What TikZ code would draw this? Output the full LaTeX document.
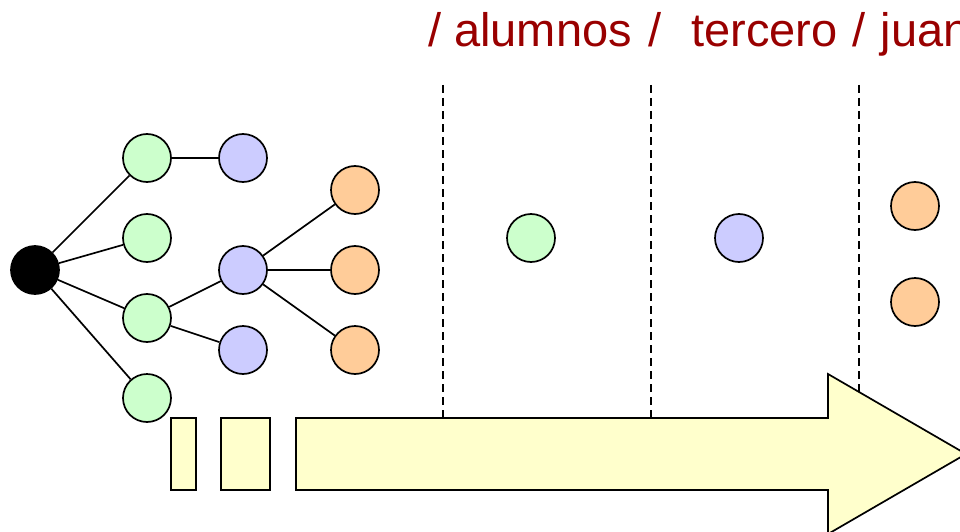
\documentclass[tikz,border=0pt]{standalone}
\usepackage{fontspec}
\setmainfont{Liberation Sans}
\definecolor{ngreen}{HTML}{CCFFCC}
\definecolor{nblue}{HTML}{CCCCFF}
\definecolor{norange}{HTML}{FFCC99}
\definecolor{arrowfill}{HTML}{FFFFCC}
\definecolor{titlered}{HTML}{990000}
\begin{document}
\begin{tikzpicture}[x=1pt,y=-1pt,
  dot/.style={circle,draw=black,line width=1.7pt,minimum size=48pt,inner sep=0pt},
  gdot/.style={dot,fill=ngreen},
  bdot/.style={dot,fill=nblue},
  odot/.style={dot,fill=norange},
  edge/.style={line width=1.7pt},
  sep/.style={line width=1.3pt,dash pattern=on 8pt off 5pt},
  ybox/.style={draw=black,line width=1.7pt,fill=arrowfill}]
\useasboundingbox (0,0) rectangle (960,532);
% title
\node[anchor=base west,inner sep=0pt,text=titlered,font=\fontsize{47}{56}\selectfont] (title) at (428,47) {/ alumnos\hspace{4pt} /\ \ \hspace{3pt}tercero\hspace{2pt} / \hspace{2pt}juan};
% dashed separators
\draw[sep] (443,85) -- (443,418);
\draw[sep] (651,85) -- (651,418);
\draw[sep] (859,85) -- (859,418);
% arrow and boxes
\draw[ybox] (171,418) rectangle (196,490);
\draw[ybox] (221,418) rectangle (270,490);
\draw[ybox,line join=miter] (296,418) -- (828,418) -- (828,374) -- (966,454) -- (828,534) -- (828,490) -- (296,490) -- cycle;
% tree
\node[dot,fill=black] (root) at (35,270) {};
\node[gdot] (g1) at (147,158) {};
\node[gdot] (g2) at (147,238) {};
\node[gdot] (g3) at (147,318) {};
\node[gdot] (g4) at (147,398) {};
\node[bdot] (b1) at (243,158) {};
\node[bdot] (b2) at (243,270) {};
\node[bdot] (b3) at (243,350) {};
\node[odot] (o1) at (355,190) {};
\node[odot] (o2) at (355,270) {};
\node[odot] (o3) at (355,350) {};
\foreach \g in {g1,g2,g3,g4} \draw[edge] (root) -- (\g);
\draw[edge] (g1) -- (b1);
\draw[edge] (g3) -- (b2);
\draw[edge] (g3) -- (b3);
\foreach \o in {o1,o2,o3} \draw[edge] (b2) -- (\o);
% columns
\node[gdot] (cg) at (531,238) {};
\node[bdot] (cb) at (739,238) {};
\node[odot] (co1) at (915,206) {};
\node[odot] (co2) at (915,302) {};
\end{tikzpicture}
\end{document}
